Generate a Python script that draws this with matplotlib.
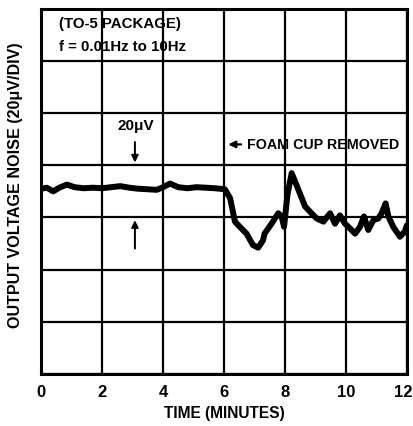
"""
Burn-in style noise plot: output voltage noise vs time, foam cup removed at 6 min.
"""

import matplotlib
matplotlib.use("Agg")
import matplotlib.pyplot as plt
import matplotlib.transforms as mtransforms

# ── Data (time in minutes, noise in grid divisions of 20uV) ───────────────────
time_min = [0.0, 0.19, 0.4, 0.6, 0.85, 1.1, 1.4, 1.7, 2.0, 2.3, 2.6, 2.9,
            3.2, 3.5, 3.8, 4.0, 4.23, 4.5, 4.8, 5.1, 5.4, 5.7, 6.03, 6.2,
            6.36, 6.52, 6.74, 6.95, 7.12, 7.28, 7.33, 7.56, 7.78, 7.89, 7.97,
            8.08, 8.22, 8.38, 8.66, 8.82, 9.04, 9.26, 9.48, 9.64, 9.8, 9.97,
            10.13, 10.3, 10.46, 10.59, 10.73, 10.9, 11.06, 11.17, 11.3, 11.39,
            11.55, 11.77, 11.93, 12.0]
noise_div = [3.55, 3.57, 3.50, 3.57, 3.63, 3.58, 3.56, 3.57, 3.56, 3.58, 3.6,
             3.57, 3.55, 3.54, 3.53, 3.58, 3.65, 3.58, 3.56, 3.58, 3.57, 3.56,
             3.54, 3.37, 2.92, 2.82, 2.69, 2.47, 2.42, 2.56, 2.69, 2.88, 3.08,
             3.02, 2.82, 3.43, 3.85, 3.62, 3.21, 3.11, 2.98, 2.92, 3.08, 2.88,
             3.04, 2.88, 2.79, 2.69, 2.82, 3.02, 2.76, 2.95, 2.98, 3.08, 3.27,
             3.02, 2.82, 2.63, 2.73, 2.85]

x_ticks = [0, 2, 4, 6, 8, 10, 12]
y_grid = [0, 1, 2, 3, 4, 5, 6, 7]

plt.rcParams["font.family"] = ["Liberation Sans", "DejaVu Sans"]

# ── Figure ────────────────────────────────────────────────────────────────────
fig = plt.figure(figsize=(4.14, 4.27), dpi=100)
ax = fig.add_axes([0.099, 0.122, 0.884, 0.855])

ax.plot(time_min, noise_div, color="black", linewidth=4.3,
        solid_joinstyle="round", solid_capstyle="round")

ax.set_xlim(0, 12)
ax.set_ylim(0, 7)
ax.set_xticks(x_ticks)
ax.set_yticks(y_grid)
ax.set_yticklabels([])
ax.tick_params(length=0, labelsize=12, pad=7)
for lab in ax.get_xticklabels():
    lab.set_fontweight("bold")
# nudge the last label in so it stays on the canvas
last = ax.get_xticklabels()[-1]
last.set_transform(last.get_transform() +
                   mtransforms.ScaledTranslation(-4 / 100, 0, fig.dpi_scale_trans))
ax.grid(True, color="black", linewidth=1.6)
for sp in ax.spines.values():
    sp.set_linewidth(2.2)

ax.set_xlabel("TIME (MINUTES)", fontsize=11.2, fontweight="bold")
ax.xaxis.set_label_coords(0.5, -0.085)
ax.set_ylabel("OUTPUT VOLTAGE NOISE (20μV/DIV)", fontsize=11.6,
              fontweight="bold")
ax.yaxis.set_label_coords(-0.05, 0.52)

# ── Annotations ───────────────────────────────────────────────────────────────
ax.text(0.6, 6.73, "(TO-5 PACKAGE)", fontsize=10.8, fontweight="bold",
        va="center", ha="left")
ax.text(0.6, 6.28, "f = 0.01Hz to 10Hz", fontsize=10.8, fontweight="bold",
        va="center", ha="left")

ax.text(3.1, 4.77, "20μV", fontsize=11, fontweight="bold", ha="center", va="center")
ax.annotate("", xy=(3.08, 4.0), xytext=(3.08, 4.5),
            arrowprops=dict(arrowstyle="-|>", color="black", lw=1.4,
                            mutation_scale=10))
ax.annotate("", xy=(3.08, 3.0), xytext=(3.08, 2.35),
            arrowprops=dict(arrowstyle="-|>", color="black", lw=1.4,
                            mutation_scale=10))

ax.annotate("", xy=(6.05, 4.4), xytext=(6.65, 4.4),
            arrowprops=dict(arrowstyle="-|>", color="black", lw=1.6,
                            mutation_scale=10))
ax.text(6.75, 4.4, "FOAM CUP REMOVED", fontsize=10.3, fontweight="bold",
        ha="left", va="center")

fig.savefig("out.png", dpi=100)
plt.close(fig)
